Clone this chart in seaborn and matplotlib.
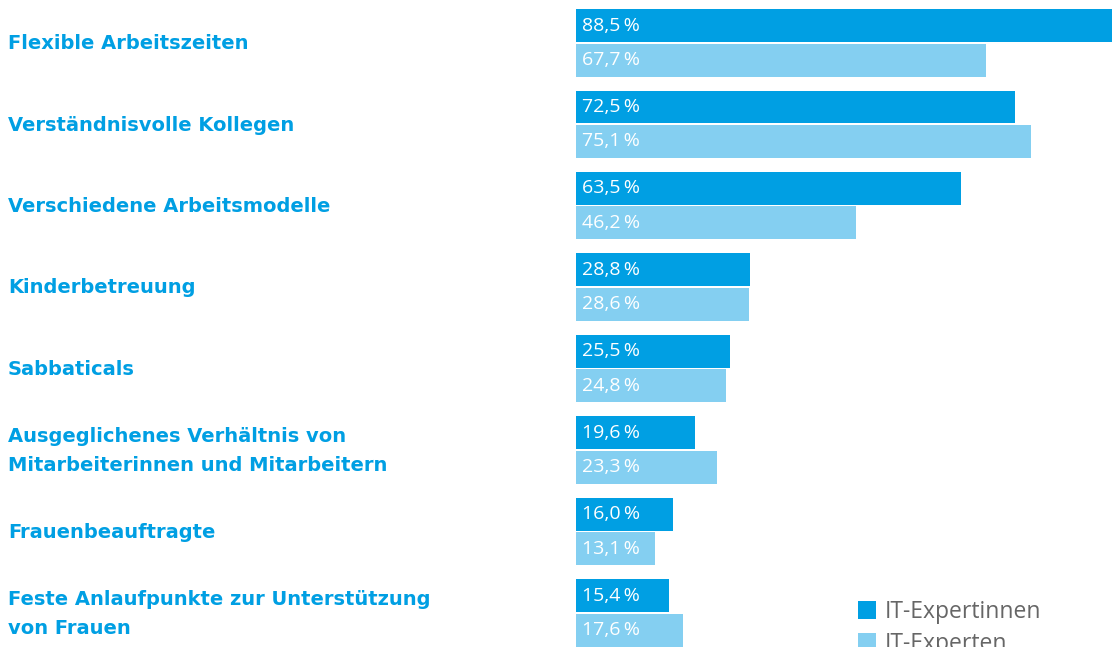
import pandas as pd
import matplotlib
matplotlib.use("Agg")
import matplotlib.pyplot as plt
import matplotlib.transforms as mtransforms
import seaborn as sns

# data
categories = [
    "Flexible Arbeitszeiten",
    "Verständnisvolle Kollegen",
    "Verschiedene Arbeitsmodelle",
    "Kinderbetreuung",
    "Sabbaticals",
    "Ausgeglichenes Verhältnis von\nMitarbeiterinnen und Mitarbeitern",
    "Frauenbeauftragte",
    "Feste Anlaufpunkte zur Unterstützung\nvon Frauen",
]
groups = ["IT-Expertinnen", "IT-Experten"]
expertinnen = [88.5, 72.5, 63.5, 28.8, 25.5, 19.6, 16.0, 15.4]
experten = [67.7, 75.1, 46.2, 28.6, 24.8, 23.3, 13.1, 17.6]

dark = "#009FE3"
light = "#84CFF1"

df = pd.DataFrame({
    "Kategorie": categories * 2,
    "Gruppe": [groups[0]] * len(categories) + [groups[1]] * len(categories),
    "Wert": expertinnen + experten,
})

sns.set_theme(style="white")
plt.rcParams["font.family"] = ["DejaVu Sans"]

W, H = 1116, 647
fig = plt.figure(figsize=(W / 100, H / 100), dpi=100)
# axes placed in pixel terms: bars start at x=576, group 0 centred at y=43, pitch 81.4
top_px = 42.8 - 0.5 * 81.43
bot_px = 42.8 + 7.5 * 81.43
ax = fig.add_axes([576 / W, 1 - bot_px / H, (W - 576) / W, (bot_px - top_px) / H])

sns.barplot(data=df, y="Kategorie", x="Wert", hue="Gruppe", orient="h",
            palette=[dark, light], width=0.847, gap=0.044, saturation=1,
            linewidth=0, ax=ax)

ax.set_xlim(0, 88.5 * (W - 576) / 536)
ax.set_ylim(7.5, -0.5)
ax.set_xlabel("")
ax.set_ylabel("")
ax.set_xticks([])
ax.set_yticks([])
sns.despine(ax=ax, left=True, bottom=True)

# value labels inside the bars, at the left end
for cont in ax.containers:
    for bar in cont:
        v = bar.get_width()
        ax.text(1.0, bar.get_y() + bar.get_height() / 2,
                f"{v:.1f}".replace(".", ",") + "\u2009%",
                color="white", fontsize=14, va="center", ha="left",
                family=["Open Sans", "DejaVu Sans"])

# category labels on the left side of the figure
trans = mtransforms.blended_transform_factory(fig.transFigure, ax.transData)
for i, cat in enumerate(categories):
    ax.text(8 / W, i + 0.01, cat, transform=trans, ha="left", va="center",
            color=dark, fontsize=14, fontweight="bold", linespacing=1.68,
            clip_on=False)

handles, labels = ax.get_legend_handles_labels()
ax.get_legend().remove()
fig.legend(handles, labels, loc="upper left",
           bbox_to_anchor=(858 / W, 1 - 600 / H), frameon=False,
           prop={"family": ["Open Sans", "DejaVu Sans"], "size": 16.5},
           handlelength=0.8, handleheight=0.8,
           handletextpad=0.35, labelspacing=0.35, labelcolor="#666666",
           borderaxespad=0, borderpad=0)

fig.savefig("out.png", dpi=100)
